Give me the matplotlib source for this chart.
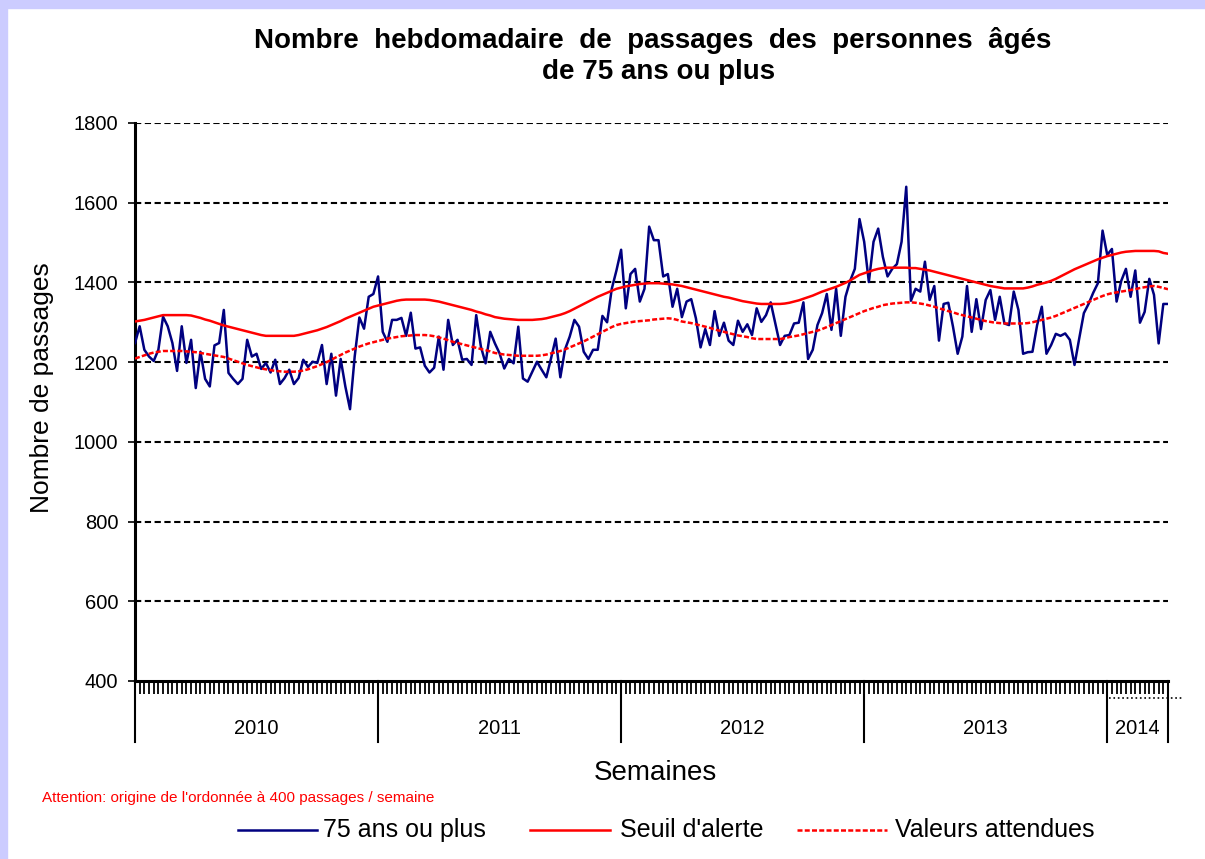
import matplotlib.pyplot as plt
from matplotlib.patches import Rectangle
from matplotlib.lines import Line2D
import matplotlib.transforms as mtransforms

plt.rcParams['font.family'] = ['Liberation Sans', 'DejaVu Sans']

# weekly counts, 2010 -> 2014
passages = [
    1248, 1290, 1231, 1214, 1203, 1231, 1314, 1290, 1248, 1178,
    1290, 1198, 1256, 1135, 1226, 1158, 1139, 1242, 1248, 1331,
    1173, 1158, 1145, 1158, 1256, 1214, 1221, 1183, 1198, 1174,
    1206, 1145, 1160, 1181, 1145, 1160, 1206, 1188, 1201, 1198,
    1243, 1145, 1221, 1116, 1208, 1139, 1082, 1214, 1312, 1284,
    1364, 1371, 1415, 1276, 1251, 1306, 1306, 1311, 1266, 1324,
    1234, 1237, 1191, 1174, 1186, 1264, 1181, 1306, 1243, 1256,
    1206, 1208, 1193, 1318, 1239, 1197, 1276, 1247, 1222, 1184,
    1208, 1197, 1289, 1159, 1151, 1176, 1201, 1181, 1162, 1209,
    1259, 1162, 1232, 1264, 1306, 1289, 1226, 1208, 1231, 1231,
    1316, 1300, 1384, 1430, 1482, 1335, 1421, 1434, 1352, 1384,
    1540, 1506, 1506, 1415, 1421, 1339, 1384, 1313, 1352, 1358,
    1310, 1237, 1283, 1243, 1328, 1266, 1299, 1254, 1243, 1304,
    1276, 1295, 1268, 1335, 1301, 1318, 1350, 1297, 1243, 1266,
    1268, 1297, 1299, 1350, 1208, 1231, 1293, 1323, 1371, 1281,
    1384, 1266, 1364, 1404, 1434, 1559, 1502, 1401, 1502, 1535,
    1464, 1415, 1434, 1446, 1502, 1640, 1354, 1384, 1377, 1452,
    1356, 1391, 1254, 1346, 1349, 1289, 1221, 1264, 1391, 1276,
    1358, 1283, 1356, 1381, 1306, 1364, 1297, 1293, 1377, 1331,
    1221, 1225, 1226, 1293, 1339, 1221, 1243, 1271, 1266, 1272,
    1256, 1193, 1259, 1323, 1346, 1374, 1398, 1530, 1469, 1484,
    1352, 1404, 1434, 1364, 1430, 1299, 1326, 1409, 1369, 1247,
    1346, 1346,
]

seuil = [
    1302, 1304, 1306, 1309, 1312, 1315, 1318, 1318, 1318, 1318,
    1318, 1318, 1317, 1314, 1311, 1307, 1304, 1300, 1296, 1292,
    1289, 1286, 1283, 1280, 1277, 1274, 1271, 1268, 1266, 1266,
    1266, 1266, 1266, 1266, 1266, 1268, 1271, 1274, 1277, 1280,
    1284, 1288, 1293, 1298, 1303, 1309, 1314, 1319, 1324, 1329,
    1334, 1339, 1342, 1345, 1348, 1351, 1354, 1356, 1357, 1357,
    1357, 1357, 1357, 1356, 1354, 1352, 1349, 1346, 1343, 1340,
    1337, 1334, 1331, 1327, 1324, 1320, 1317, 1313, 1311, 1309,
    1308, 1307, 1306, 1306, 1306, 1306, 1307, 1308, 1310, 1313,
    1316, 1319, 1323, 1328, 1334, 1340, 1346, 1352, 1358, 1364,
    1369, 1374, 1379, 1384, 1387, 1390, 1392, 1394, 1396, 1397,
    1398, 1398, 1398, 1397, 1396, 1395, 1393, 1391, 1388, 1385,
    1382, 1379, 1376, 1373, 1370, 1367, 1364, 1362, 1359, 1356,
    1353, 1351, 1349, 1347, 1346, 1346, 1346, 1346, 1346, 1347,
    1349, 1352, 1355, 1359, 1363, 1367, 1372, 1377, 1381, 1385,
    1389, 1394, 1399, 1405, 1412, 1419, 1423, 1427, 1431, 1434,
    1436, 1437, 1437, 1437, 1437, 1437, 1436, 1436, 1434, 1432,
    1430, 1427, 1424, 1421, 1418, 1415, 1412, 1409, 1406, 1403,
    1400, 1397, 1394, 1391, 1389, 1387, 1385, 1385, 1385, 1385,
    1385, 1387, 1390, 1394, 1397, 1400, 1404, 1409, 1415, 1421,
    1427, 1433, 1438, 1443, 1448, 1453, 1458, 1462, 1466, 1469,
    1472, 1475, 1477, 1478, 1479, 1479, 1479, 1479, 1479, 1478,
    1474, 1472,
]

attendues = [
    1209, 1213, 1217, 1221, 1224, 1226, 1228, 1228, 1228, 1228,
    1228, 1227, 1226, 1225, 1223, 1221, 1219, 1217, 1215, 1213,
    1209, 1205, 1201, 1197, 1193, 1190, 1187, 1184, 1182, 1180,
    1178, 1177, 1176, 1176, 1176, 1177, 1179, 1182, 1186, 1190,
    1195, 1200, 1206, 1212, 1218, 1224, 1229, 1234, 1239, 1243,
    1247, 1250, 1253, 1256, 1259, 1261, 1263, 1265, 1266, 1267,
    1268, 1268, 1268, 1267, 1265, 1262, 1259, 1255, 1251, 1248,
    1245, 1242, 1239, 1236, 1233, 1230, 1227, 1223, 1221, 1219,
    1218, 1217, 1216, 1216, 1216, 1216, 1216, 1217, 1219, 1222,
    1225, 1228, 1232, 1237, 1242, 1247, 1252, 1258, 1264, 1270,
    1276, 1282, 1288, 1293, 1296, 1298, 1300, 1302, 1303, 1304,
    1305, 1307, 1308, 1309, 1310, 1309, 1306, 1302, 1300, 1298,
    1295, 1292, 1289, 1286, 1282, 1279, 1276, 1273, 1270, 1267,
    1265, 1263, 1260, 1258, 1258, 1258, 1258, 1258, 1258, 1260,
    1263, 1265, 1267, 1270, 1273, 1276, 1279, 1283, 1288, 1293,
    1298, 1303, 1308, 1313, 1318, 1323, 1328, 1332, 1336, 1339,
    1343, 1345, 1347, 1348, 1349, 1350, 1350, 1349, 1347, 1345,
    1342, 1339, 1335, 1332, 1328, 1325, 1321, 1318, 1315, 1312,
    1309, 1306, 1303, 1301, 1299, 1298, 1297, 1297, 1297, 1297,
    1297, 1298, 1300, 1303, 1306, 1309, 1312, 1316, 1321, 1326,
    1331, 1336, 1341, 1346, 1351, 1356, 1361, 1366, 1370, 1373,
    1375, 1377, 1379, 1381, 1383, 1386, 1388, 1390, 1391, 1389,
    1386, 1383,
]

years = ['2010', '2011', '2012', '2013', '2014']
weeks_per_year = [52, 52, 52, 52, 14]

n = len(passages)
x = list(range(n))

fig = plt.figure(figsize=(12.05, 8.59), dpi=100)
fig.patch.set_facecolor('white')
# lavender frame at the left/top edge
fig.patches.append(Rectangle((0, 0), 7 / 1205, 1, transform=fig.transFigure,
                             color='#ccccff', zorder=0))
fig.patches.append(Rectangle((0, 1 - 8 / 859), 1, 8 / 859, transform=fig.transFigure,
                             color='#ccccff', zorder=0))

ax = fig.add_axes([135 / 1205, 1 - 681 / 859, 1033 / 1205, 558 / 859])

ax.plot(x, passages, color='#000080', lw=1.8, zorder=3)
ax.plot(x, seuil, color='#ff0000', lw=1.8, zorder=4)
ax.plot(x, attendues, color='#ff0000', lw=1.8, ls=(0, (2, 0.9)), zorder=4)

ax.set_xlim(0, n - 1)
ax.set_ylim(400, 1800)
ax.set_yticks(range(400, 1801, 200))
for v in range(600, 1801, 200):
    ax.axhline(v, color='black', lw=1.5, ls=(0, (3, 1.7)), zorder=1)

for s in ['top', 'right']:
    ax.spines[s].set_visible(False)
ax.spines['left'].set_linewidth(2.2)
ax.spines['bottom'].set_linewidth(2.2)

ax.tick_params(axis='y', direction='out', length=5, width=1.2, labelsize=14.5, pad=7)
ax.set_xticks(range(0, n))
ax.tick_params(axis='x', direction='out', length=9, width=1.3, labelbottom=False)

# year separators and labels below the axis
trans = mtransforms.blended_transform_factory(ax.transData, ax.transAxes)
edges = [0]
for w in weeks_per_year:
    edges.append(min(edges[-1] + w, n - 1))
for e in edges:
    ax.add_line(Line2D([e, e], [0, -0.11], transform=trans, color='black',
                       lw=1.5, clip_on=False))
for yr, a, b in zip(years, edges[:-1], edges[1:]):
    ax.text((a + b) / 2, -0.086, yr, transform=trans, ha='center', va='center',
            fontsize=14.5)
ax.add_line(Line2D([edges[-2] + 0.3, n + 2.5], [-0.03, -0.03], transform=trans,
                   color='black', lw=1.2, ls=':', clip_on=False))

ax.set_ylabel('Nombre de passages', fontsize=19)
ax.yaxis.set_label_coords(-0.078, 0.526)
fig.text(655 / 1205, 1 - 773 / 859, 'Semaines', ha='center', va='center', fontsize=20)

fig.text(653 / 1205, 1 - 40 / 859,
         'Nombre  hebdomadaire  de  passages  des  personnes  âgés',
         ha='center', va='center', fontsize=20, fontweight='bold')
fig.text(659 / 1205, 1 - 72 / 859, 'de 75 ans ou plus',
         ha='center', va='center', fontsize=20, fontweight='bold')

fig.text(42 / 1205, 1 - 798 / 859,
         "Attention: origine de l'ordonnée à 400 passages / semaine",
         color='#ff0000', fontsize=11, va='center')

# legend drawn by hand to match the original spacing
legend_items = [
    ('75 ans ou plus', dict(color='#000080', lw=1.8), 238, 317, 323),
    ("Seuil d'alerte", dict(color='#ff0000', lw=1.8), 530, 610, 620),
    ('Valeurs attendues', dict(color='#ff0000', lw=1.8, ls=(0, (2, 0.9))), 797, 887, 895),
]
ly = 1 - 830 / 859
for label, style, x0, x1, tx in legend_items:
    fig.add_artist(Line2D([x0 / 1205, x1 / 1205], [ly, ly], transform=fig.transFigure, **style))
    fig.text(tx / 1205, ly, label, fontsize=18, va='center', ha='left')

fig.savefig('out.png', dpi=100)
